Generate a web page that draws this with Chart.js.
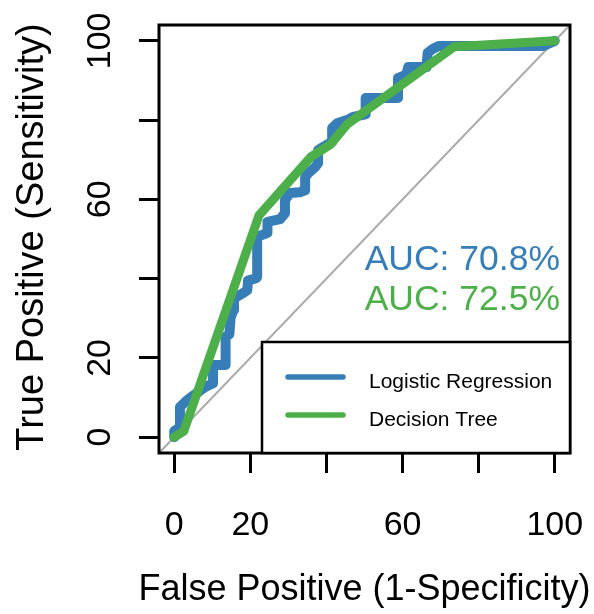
<!DOCTYPE html>
<html>
<head>
<meta charset="utf-8">
<script src="https://cdn.jsdelivr.net/npm/chart.js@4.4.1/dist/chart.umd.min.js"></script>
<style>
  html, body { margin: 0; padding: 0; background: #fff; }
</style>
</head>
<body>
<canvas id="roc" width="594" height="614"></canvas>
<script>
// ROC points (percent)
const logitFpr = [0, 0, 1.5, 1.5, 3, 5, 6.5, 8, 10.2, 10.2, 13.5, 13.5, 14.5, 14.8, 15.5, 15.7, 18, 19.2, 19.4, 21.5, 21.8, 21.8, 23, 24.4, 24.5, 27.8, 29.1, 29.1, 30.4, 33, 34.4, 34.4, 35.2, 37, 37.8, 37.8, 39.1, 40.9, 41.5, 41.5, 42.8, 45.4, 47, 49.6, 50.3, 50.3, 58.8, 58.8, 61, 61.5, 66.3, 66.6, 68, 69.5, 97, 100];
const logitTpr = [0, 1.5, 2.5, 7.6, 9, 10.5, 11.5, 12.6, 13.6, 18.2, 18.2, 25.3, 26, 30, 32, 35, 36.3, 37.1, 39.5, 40.1, 40.4, 50.5, 51, 51.5, 54.3, 55, 56.5, 59.8, 61.6, 61.8, 62.3, 65.6, 66.6, 68.1, 69.1, 72.4, 73.2, 74.2, 74.5, 78, 79.2, 80, 80.8, 81.3, 81.5, 85.6, 85.6, 90.6, 91.5, 93.4, 93.4, 97, 98, 98.7, 98.7, 100];
const treeFpr = [0, 2.5, 22.3, 36, 41, 45.5, 73.5, 100];
const treeTpr = [0, 1.5, 56, 70.8, 73.8, 79, 98.5, 100];

const seriesNames = ['Logistic Regression', 'Decision Tree'];
const aucLabels = ['AUC: 70.8%', 'AUC: 72.5%'];
const axisTicks = [0, 20, 40, 60, 80, 100];
const tickLabels = ['0', '20', '', '60', '', '100'];
const axisRange = [-4, 104];

const BLUE = '#377eb8';
const GREEN = '#4daf4a';
const FONT = '"Liberation Sans", Arial, Helvetica, sans-serif';

function toPoints(xs, ys) {
    return xs.map((x, i) => ({ x: x, y: ys[i] }));
}

// box, tick labels, titles, AUC text and legend in the R style
const rocDecor = {
    id: 'rocDecor',
    afterDraw(chart) {
        const ctx = chart.ctx;
        const area = chart.chartArea;
        const xs = chart.scales.x;
        const ys = chart.scales.y;
        ctx.save();

        ctx.strokeStyle = '#000';
        ctx.lineWidth = 3;
        ctx.strokeRect(area.left, area.top, area.right - area.left, area.bottom - area.top);

        ctx.fillStyle = '#000';
        ctx.font = '34px ' + FONT;
        ctx.textAlign = 'center';
        ctx.textBaseline = 'alphabetic';
        axisTicks.forEach((v, i) => {
            if (!tickLabels[i]) return;
            ctx.fillText(tickLabels[i], xs.getPixelForValue(v), 535);
        });
        axisTicks.forEach((v, i) => {
            if (!tickLabels[i]) return;
            ctx.save();
            ctx.translate(110, ys.getPixelForValue(v));
            ctx.rotate(-Math.PI / 2);
            ctx.fillText(tickLabels[i], 0, 0);
            ctx.restore();
        });

        ctx.font = '36px ' + FONT;
        ctx.fillText('False Positive (1-Specificity)', (area.left + area.right) / 2, 600);
        ctx.save();
        ctx.font = '38px ' + FONT;
        ctx.translate(43, (area.top + area.bottom) / 2 - 2);
        ctx.rotate(-Math.PI / 2);
        ctx.fillText('True Positive (Sensitivity)', 0, 0);
        ctx.restore();

        ctx.font = '35.5px ' + FONT;
        ctx.textAlign = 'right';
        ctx.fillStyle = BLUE;
        ctx.fillText(aucLabels[0], 560, 270);
        ctx.fillStyle = GREEN;
        ctx.fillText(aucLabels[1], 560, 310);

        // legend
        const lx = 262, ly = 342;
        ctx.fillStyle = '#fff';
        ctx.fillRect(lx, ly, area.right - lx, area.bottom - ly);
        ctx.strokeStyle = '#000';
        ctx.lineWidth = 2.5;
        ctx.strokeRect(lx, ly, area.right - lx, area.bottom - ly);
        const rows = [377, 415];
        const cols = [BLUE, GREEN];
        ctx.lineCap = 'round';
        ctx.lineWidth = 5.5;
        ctx.font = '21px ' + FONT;
        ctx.textAlign = 'left';
        rows.forEach((y, i) => {
            ctx.strokeStyle = cols[i];
            ctx.beginPath();
            ctx.moveTo(288, y);
            ctx.lineTo(343, y);
            ctx.stroke();
            ctx.fillStyle = '#000';
            ctx.fillText(seriesNames[i], 369, y + 11);
        });
        ctx.restore();
    }
};

const scaleOpts = {
    type: 'linear',
    min: axisRange[0],
    max: axisRange[1],
    afterBuildTicks: (s) => { s.ticks = axisTicks.map(v => ({ value: v })); },
    ticks: { display: false },
    border: { display: false },
    grid: {
        display: true,
        drawOnChartArea: false,
        drawTicks: true,
        tickLength: 20,
        lineWidth: 3,
        color: '#000'
    }
};

new Chart(document.getElementById('roc'), {
    type: 'line',
    data: {
        datasets: [
            {
                label: seriesNames[1],
                data: toPoints(treeFpr, treeTpr),
                borderColor: GREEN,
                borderWidth: 9,
                borderCapStyle: 'round',
                borderJoinStyle: 'round',
                pointRadius: 0,
                tension: 0
            },
            {
                label: seriesNames[0],
                data: toPoints(logitFpr, logitTpr),
                borderColor: BLUE,
                borderWidth: 10,
                borderCapStyle: 'round',
                borderJoinStyle: 'round',
                pointRadius: 0,
                tension: 0
            },
            {
                label: 'chance',
                data: toPoints(axisRange, axisRange),
                borderColor: '#aaaaaa',
                borderWidth: 2,
                pointRadius: 0
            }
        ]
    },
    options: {
        responsive: false,
        devicePixelRatio: 1,
        animation: false,
        layout: { padding: { top: 25, right: 24, left: 0, bottom: 0 } },
        plugins: { legend: { display: false }, tooltip: { enabled: false } },
        scales: {
            x: Object.assign({}, scaleOpts, { afterFit: (s) => { s.height = 161; } }),
            y: Object.assign({}, scaleOpts, { afterFit: (s) => { s.width = 159; } })
        }
    },
    plugins: [rocDecor]
});
</script>
</body>
</html>
